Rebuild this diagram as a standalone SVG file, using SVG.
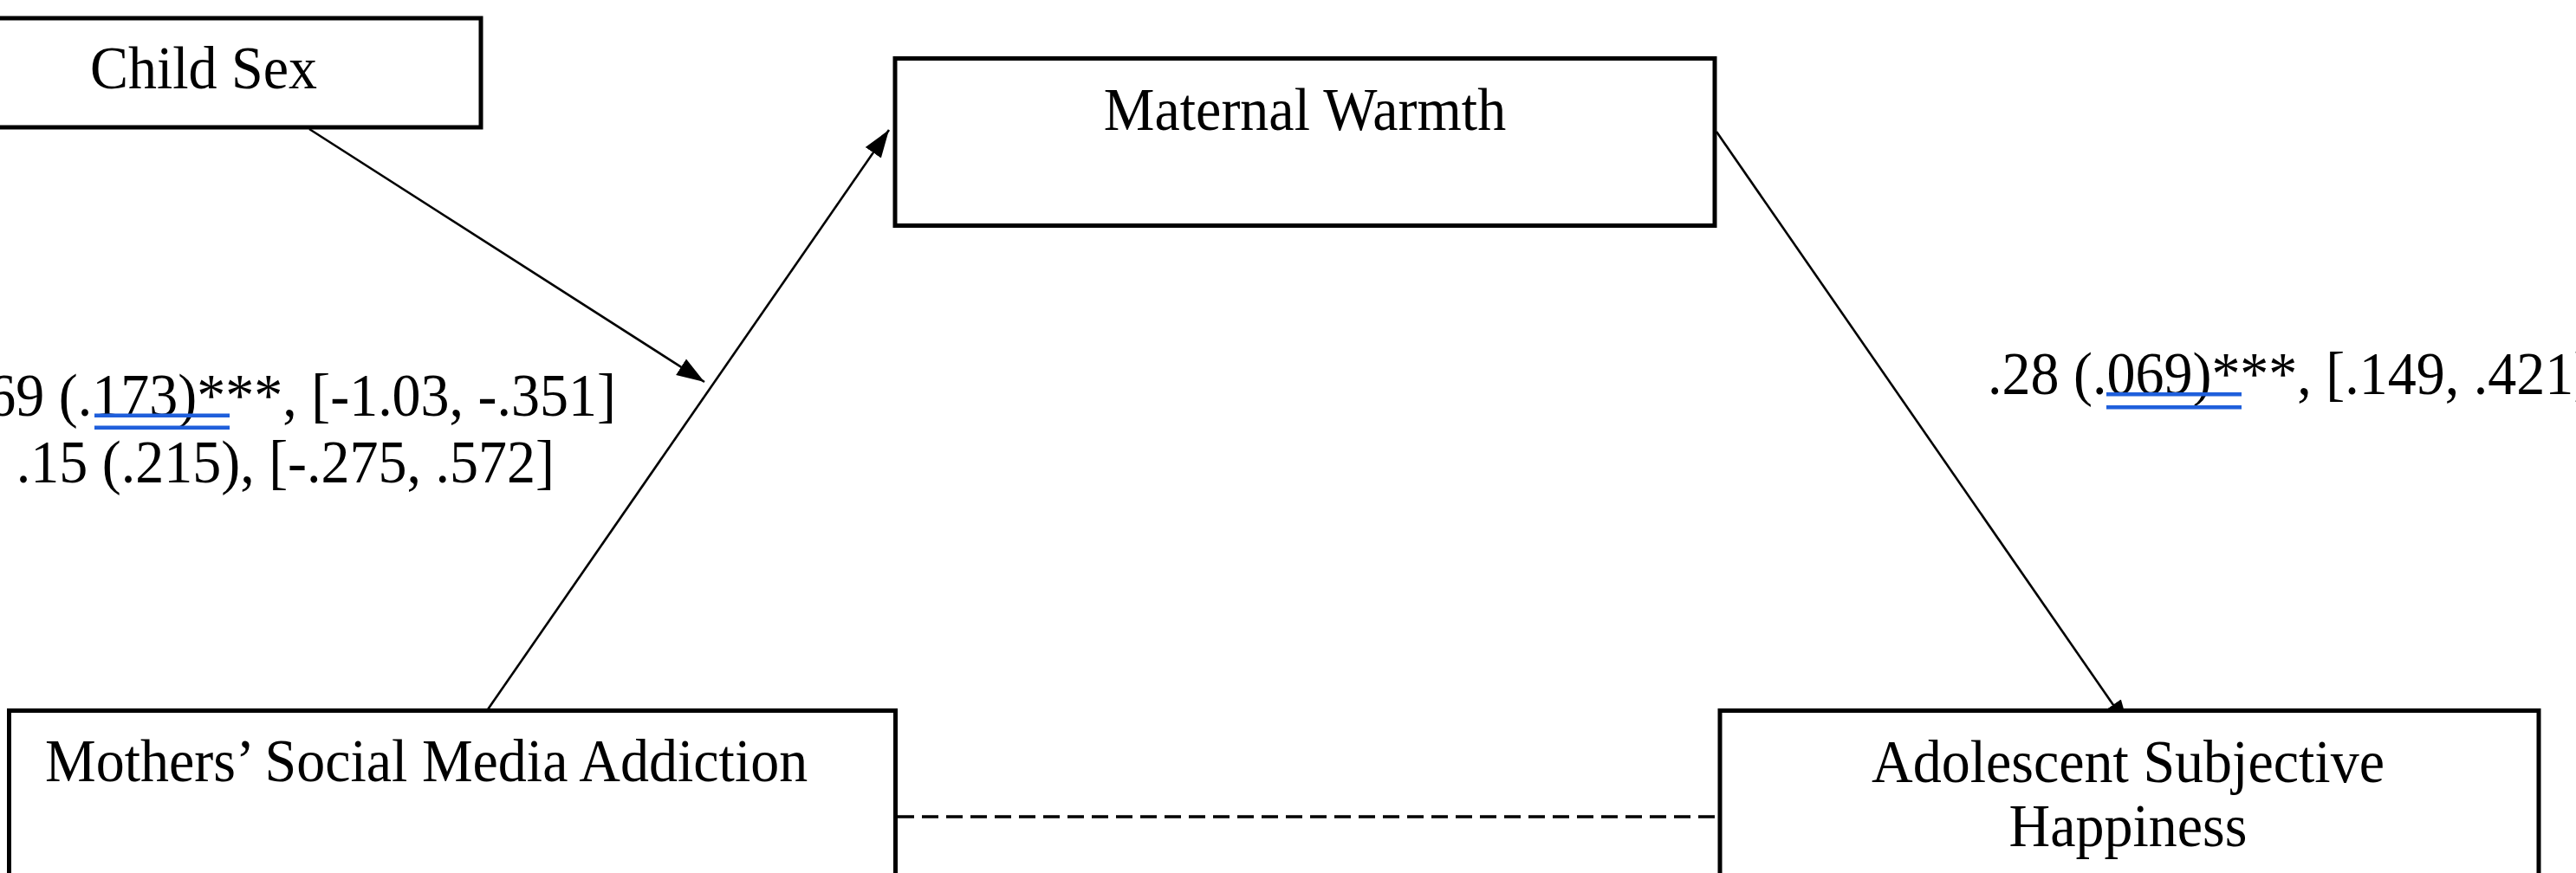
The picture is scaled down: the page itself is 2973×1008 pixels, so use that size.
<svg xmlns="http://www.w3.org/2000/svg" width="2973" height="1008" viewBox="0 0 2973 1008">
<style>
.box{fill:#fff;stroke:#000;stroke-width:5}
.t{font-family:"Liberation Serif","Times New Roman",serif;font-size:66px;fill:#000}
.m{text-anchor:middle}
.e{text-anchor:end}
.c{stroke:#000;stroke-width:2.6;fill:none}
.u{fill:#1F5FDB}
</style>
<defs>
<marker id="ah" markerUnits="userSpaceOnUse" markerWidth="34" markerHeight="26" refX="32" refY="12" orient="auto">
<path d="M0,1 L32,12 L0,23 z" fill="#000"/>
</marker>
</defs>
<rect width="2973" height="1008" fill="#fff"/>
<g id="connectors">
<line class="c" x1="357" y1="149" x2="813" y2="441" marker-end="url(#ah)"/>
<line class="c" x1="561" y1="822" x2="1026" y2="150" marker-end="url(#ah)"/>
<line class="c" x1="1981" y1="152" x2="2457" y2="840" marker-end="url(#ah)"/>
<line x1="1036" y1="943" x2="1983" y2="943" stroke="#000" stroke-width="3.5" stroke-dasharray="19 9"/>
</g>
<g id="child-sex">
<rect class="box" x="-10" y="21" width="565" height="126"/>
<text class="t m" transform="translate(235,102) scale(1,1.07)">Child Sex</text>
</g>
<g id="maternal-warmth">
<rect class="box" x="1033" y="67.5" width="946" height="193"/>
<text class="t m" transform="translate(1506,150) scale(1,1.07)">Maternal Warmth</text>
</g>
<g id="mothers-sma">
<rect class="box" x="10.5" y="820.5" width="1023" height="220"/>
<text class="t" transform="translate(52,902) scale(1,1.07)">Mothers’ Social Media Addiction</text>
</g>
<g id="adolescent-happiness">
<rect class="box" x="1985" y="820.5" width="945" height="220"/>
<text class="t m" transform="translate(2456,903) scale(1,1.07)">Adolescent Subjective</text>
<text class="t m" transform="translate(2456,977) scale(1,1.07)">Happiness</text>
</g>
<g id="labels">
<text class="t e" transform="translate(711,480) scale(1,1.07)">-.69 (.173)***, [-1.03, -.351]</text>
<rect class="u" x="109" y="477.5" width="156" height="4.5"/>
<rect class="u" x="109" y="491.5" width="156" height="4.5"/>
<text class="t e" transform="translate(640,557) scale(1,1.07)">: .15 (.215), [-.275, .572]</text>
<text class="t" transform="translate(2294,455) scale(1,1.07)">.28 (.069)***, [.149, .421]</text>
<rect class="u" x="2431" y="453" width="156" height="4.5"/>
<rect class="u" x="2431" y="468" width="156" height="4.5"/>
</g>
</svg>
